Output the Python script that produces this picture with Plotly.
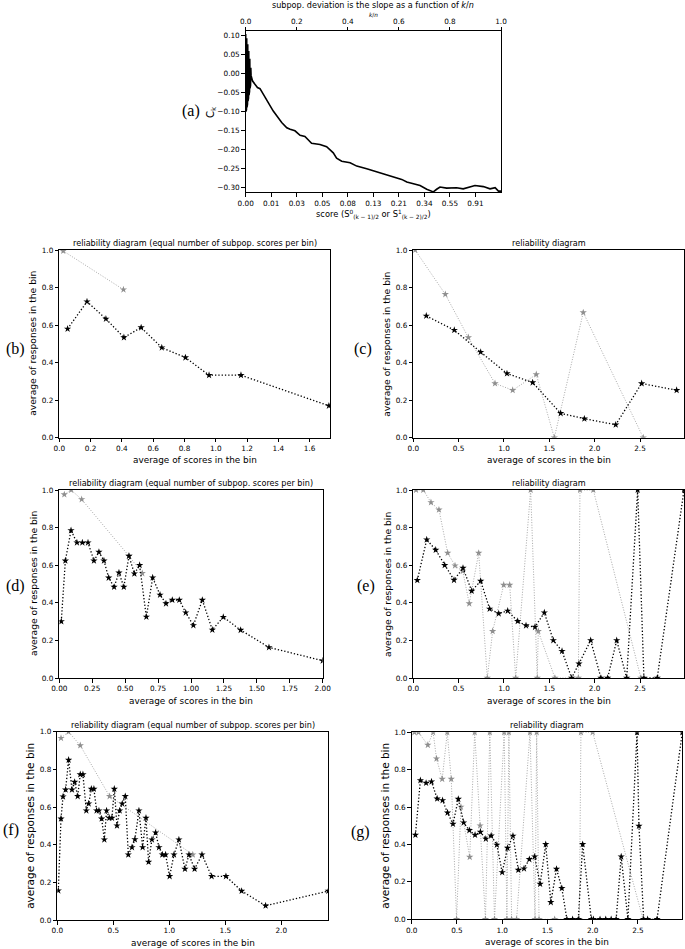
import plotly.graph_objects as go

# (a) cumulative subpopulation deviation against k/n
a_kn = [0.0, 0.001, 0.002, 0.003, 0.004, 0.005, 0.006, 0.007, 0.008, 0.009,
        0.010, 0.011, 0.012, 0.013, 0.014, 0.015, 0.016, 0.017, 0.018, 0.019,
        0.020, 0.021, 0.027, 0.046, 0.056, 0.082, 0.108,
        0.141, 0.161, 0.174, 0.193, 0.213, 0.232, 0.258, 0.291, 0.317, 0.343,
        0.356, 0.376, 0.409, 0.435, 0.474, 0.500, 0.526, 0.552, 0.578, 0.611,
        0.631, 0.657, 0.683, 0.709, 0.735, 0.748, 0.761, 0.787, 0.826, 0.852,
        0.879, 0.898, 0.931, 0.957, 0.977, 0.990, 1.0]
a_dev = [0.105, -0.099, 0.100, -0.094, 0.094, -0.088, 0.086, -0.080, 0.078, -0.072,
         0.070, -0.064, 0.060, -0.056, 0.050, -0.046, 0.040, -0.038, 0.028, -0.030,
         0.016, -0.004, -0.019, -0.036, -0.039, -0.067, -0.098,
         -0.128, -0.142, -0.146, -0.150, -0.162, -0.165, -0.183, -0.186, -0.192, -0.208,
         -0.222, -0.230, -0.234, -0.243, -0.250, -0.255, -0.262, -0.267, -0.271, -0.278,
         -0.285, -0.289, -0.294, -0.304, -0.311, -0.304, -0.298, -0.301, -0.300, -0.303,
         -0.298, -0.294, -0.297, -0.303, -0.300, -0.309, -0.309]
a_score_pos = [0.0, 0.1, 0.2, 0.3, 0.4, 0.5, 0.6, 0.7, 0.8, 0.9]
a_score_txt = ["0.00", "0.01", "0.03", "0.05", "0.08", "0.13", "0.21", "0.34", "0.55", "0.91"]

# reliability diagrams: black = full population, gray = subpopulation
b_x = [0.053, 0.177, 0.298, 0.413, 0.523, 0.655, 0.806, 0.957, 1.161, 1.723]
b_y = [0.580, 0.725, 0.633, 0.534, 0.587, 0.480, 0.427, 0.333, 0.333, 0.170]
b_gx = [0.025, 0.41]
b_gy = [0.995, 0.789]

c_x = [0.143, 0.452, 0.743, 1.033, 1.316, 1.625, 1.886, 2.232, 2.518, 2.904]
c_y = [0.649, 0.573, 0.456, 0.342, 0.294, 0.130, 0.101, 0.069, 0.289, 0.253]
c_gx = [0.02, 0.353, 0.607, 0.901, 1.096, 1.356, 1.555, 1.874, 2.536]
c_gy = [1.0, 0.764, 0.534, 0.289, 0.253, 0.337, 0.0, 0.667, 0.0]

d_x = [0.015, 0.046, 0.089, 0.134, 0.175, 0.218, 0.263, 0.301, 0.339, 0.375,
       0.416, 0.453, 0.490, 0.529, 0.570, 0.610, 0.661, 0.709, 0.765, 0.810,
       0.858, 0.911, 0.960, 1.018, 1.086, 1.162, 1.245, 1.377, 1.592, 2.0]
d_y = [0.301, 0.624, 0.785, 0.720, 0.720, 0.720, 0.624, 0.670, 0.624, 0.533,
       0.484, 0.560, 0.484, 0.649, 0.555, 0.600, 0.325, 0.534, 0.442, 0.396,
       0.415, 0.415, 0.348, 0.280, 0.415, 0.256, 0.324, 0.255, 0.163, 0.092]
d_gx = [0.038, 0.09, 0.170, 0.529, 0.630]
d_gy = [0.976, 1.0, 0.950, 0.649, 0.557]

e_x = [0.044, 0.148, 0.247, 0.346, 0.449, 0.548, 0.644, 0.743, 0.842, 0.942,
       1.041, 1.151, 1.243, 1.342, 1.445, 1.544, 1.640, 1.746, 1.827, 1.956,
       2.069, 2.143, 2.243, 2.353, 2.474, 2.543, 2.690, 2.985]
e_y = [0.520, 0.736, 0.681, 0.600, 0.521, 0.585, 0.463, 0.516, 0.368, 0.343,
       0.357, 0.302, 0.279, 0.271, 0.348, 0.200, 0.143, 0.0, 0.076, 0.200,
       0.0, 0.0, 0.200, 0.0, 1.0, 0.0, 0.0, 1.0]
e_gx = [0.03, 0.11, 0.195, 0.283, 0.379, 0.460, 0.545, 0.617, 0.721, 0.816,
        0.875, 0.997, 1.063, 1.129, 1.294, 1.367, 1.378, 1.562, 1.82, 1.838,
        1.985, 2.51]
e_gy = [1.0, 1.0, 0.934, 0.895, 0.665, 0.598, 0.569, 0.396, 0.665, 0.0,
        0.249, 0.495, 0.495, 0.0, 1.0, 0.0, 0.249, 0.0, 0.0, 1.0,
        1.0, 0.0]

f_x = [0.009, 0.033, 0.051, 0.074, 0.101, 0.131, 0.155, 0.182, 0.205, 0.229,
       0.259, 0.280, 0.304, 0.327, 0.351, 0.372, 0.396, 0.420, 0.440, 0.464,
       0.488, 0.509, 0.533, 0.557, 0.580, 0.607, 0.634, 0.667, 0.693, 0.729,
       0.762, 0.792, 0.815, 0.845, 0.878, 0.908, 0.938, 0.967, 1.003, 1.042,
       1.086, 1.140, 1.176, 1.226, 1.292, 1.378, 1.506, 1.646, 1.860, 2.42]
f_y = [0.156, 0.538, 0.655, 0.692, 0.850, 0.692, 0.733, 0.657, 0.773, 0.773,
       0.581, 0.618, 0.696, 0.696, 0.581, 0.581, 0.538, 0.427, 0.581, 0.542,
       0.542, 0.696, 0.501, 0.581, 0.618, 0.657, 0.347, 0.386, 0.428, 0.581,
       0.386, 0.542, 0.308, 0.427, 0.464, 0.386, 0.347, 0.347, 0.232, 0.347,
       0.427, 0.271, 0.347, 0.271, 0.347, 0.232, 0.232, 0.154, 0.076, 0.154]
f_gx = [0.033, 0.10, 0.205, 0.467, 1.21]
f_gy = [0.966, 1.0, 0.927, 0.657, 0.347]

g_x = [0.041, 0.096, 0.159, 0.219, 0.281, 0.341, 0.396, 0.456, 0.515, 0.574,
       0.637, 0.700, 0.759, 0.819, 0.878, 0.941, 1.0, 1.059, 1.119, 1.178,
       1.241, 1.300, 1.359, 1.419, 1.481, 1.537, 1.600, 1.659, 1.715, 1.778,
       1.841, 1.889, 1.985, 2.007, 2.081, 2.144, 2.204, 2.259, 2.315, 2.389,
       2.49, 2.511, 2.563, 2.607, 2.711, 2.99]
g_y = [0.451, 0.743, 0.729, 0.736, 0.645, 0.636, 0.570, 0.510, 0.643, 0.517,
       0.476, 0.451, 0.467, 0.430, 0.447, 0.398, 0.251, 0.381, 0.446, 0.264,
       0.271, 0.321, 0.335, 0.189, 0.401, 0.091, 0.269, 0.166, 0.0, 0.0,
       0.0, 0.401, 0.0, 0.0, 0.0, 0.0, 0.0, 0.0, 0.335, 0.0,
       1.0, 0.499, 0.0, 0.0, 0.0, 1.0]
g_gx = [0.03, 0.075, 0.178, 0.237, 0.274, 0.337, 0.393, 0.437, 0.496, 0.544,
        0.641, 0.696, 0.756, 0.815, 0.863, 0.915, 1.022, 1.052, 1.074, 1.104,
        1.159, 1.307, 1.363, 1.381, 1.407, 1.58, 1.852, 1.87, 2.0, 2.556]
g_gy = [1.0, 1.0, 0.932, 1.0, 0.859, 0.750, 1.0, 0.750, 0.0, 0.601,
        0.333, 1.0, 0.501, 0.0, 1.0, 0.0, 1.0, 0.0, 1.0, 0.0,
        0.0, 1.0, 0.0, 1.0, 0.0, 0.0, 0.0, 1.0, 1.0, 0.0]

W, H = 685, 949
FONT = "DejaVu Sans"
SERIF = "Liberation Serif"
TITLE_EQ = "reliability diagram (equal number of subpop. scores per bin)"
TITLE_PL = "reliability diagram"


def dom_x(left, right):
    return [left / W, right / W]


def dom_y(top, bottom):
    return [1 - bottom / H, 1 - top / H]


axis_common = dict(showline=True, linecolor="black", linewidth=1, mirror=True,
                   ticks="outside", ticklen=3.5, tickwidth=0.8, tickcolor="black",
                   showgrid=False, zeroline=False, automargin=False,
                   tickfont=dict(family=FONT, size=7.3, color="black"))

fig = go.Figure()
annotations = []


def note(text, px, py, size, family=FONT, angle=0):
    annotations.append(dict(text=text, x=px / W, y=1 - py / H, xref="paper", yref="paper",
                            xanchor="center", yanchor="middle", showarrow=False,
                            textangle=angle, font=dict(family=family, size=size, color="black")))


# ---- panel (a) ----
fig.add_trace(go.Scatter(x=a_kn, y=a_dev, mode="lines", line=dict(color="black", width=1.6),
                         xaxis="x", yaxis="y", showlegend=False, hoverinfo="skip"))
fig.add_trace(go.Scatter(x=[0.5], y=[0], mode="markers", marker=dict(opacity=0),
                         xaxis="x8", yaxis="y", showlegend=False, hoverinfo="skip"))
fig.update_layout(
    xaxis=dict(axis_common, domain=dom_x(245.7, 501), anchor="y", range=[0, 1],
               tickmode="array", tickvals=a_score_pos, ticktext=a_score_txt),
    xaxis8=dict(axis_common, overlaying="x", side="top", anchor="y", range=[0, 1],
                dtick=0.2, tickformat=".1f"),
    yaxis=dict(axis_common, domain=dom_y(31, 192.3), anchor="x", range=[-0.312, 0.113],
               dtick=0.05, tickformat=".2f"),
)
note("subpop. deviation is the slope as a function of <i>k</i>/<i>n</i>", 373, 5, 8.1)
note("<i>k</i>/<i>n</i>", 373, 14.5, 5.8)
note("score (S<sup>0</sup><sub>(k − 1)/2</sub> or S<sup>1</sup><sub>(k − 2)/2</sub>)", 373, 214, 8.3)
note("C<sub>k</sub>", 211, 112, 10, angle=-90)
note("(a)", 191, 111, 16, family=SERIF)

# ---- panels (b)-(g) ----
panels = [
    # letter, title, black, gray, x max, dtick, fmt, box (l, r, t, b), ylabel x, letter pos, ylabel size
    ("(b)", TITLE_EQ, b_x, b_y, b_gx, b_gy, 1.73, 0.2, ".1f", (59.3, 330, 250, 437.7), 33, (15, 349), 9.2),
    ("(c)", TITLE_PL, c_x, c_y, c_gx, c_gy, 2.985, 0.5, ".1f", (413.3, 684, 250, 437.7), 387, (363, 349), 9.2),
    ("(d)", TITLE_EQ, d_x, d_y, d_gx, d_gy, 2.0, 0.25, ".2f", (59.3, 322.7, 490, 678), 33, (15, 586), 9.2),
    ("(e)", TITLE_PL, e_x, e_y, e_gx, e_gy, 2.985, 0.5, ".1f", (413.3, 684, 490, 678), 387, (366, 586), 9.2),
    ("(f)", TITLE_EQ, f_x, f_y, f_gx, f_gy, 2.42, 0.5, ".1f", (57.3, 328.3, 731.7, 920), 30, (11, 830), 10.5),
    ("(g)", TITLE_PL, g_x, g_y, g_gx, g_gy, 2.99, 0.5, ".1f", (411.7, 682.3, 732.3, 919.3), 385, (361, 832), 10.5),
]

for i, (letter, title, bx, by, gx, gy, xmax, dt, fmt, box, ylab_x, lpos, ysize) in enumerate(panels, start=2):
    left, right, top, bottom = box
    xa, ya = f"x{i}", f"y{i}"
    fig.add_trace(go.Scatter(x=gx, y=gy, mode="lines+markers", xaxis=xa, yaxis=ya,
                             line=dict(color="#a8a8a8", width=1, dash="1px,1.6px"),
                             marker=dict(symbol="star", size=5.5, color="#8f8f8f"),
                             showlegend=False, hoverinfo="skip"))
    fig.add_trace(go.Scatter(x=bx, y=by, mode="lines+markers", xaxis=xa, yaxis=ya,
                             line=dict(color="black", width=1.3, dash="1.3px,2px"),
                             marker=dict(symbol="star", size=5.5, color="black"),
                             showlegend=False, hoverinfo="skip"))
    fig.update_layout({
        f"xaxis{i}": dict(axis_common, domain=dom_x(left, right), anchor=ya,
                          range=[0, xmax], dtick=dt, tick0=0, tickformat=fmt),
        f"yaxis{i}": dict(axis_common, domain=dom_y(top, bottom), anchor=xa,
                          range=[0, 1], dtick=0.2, tickformat=".1f"),
    })
    cx = (left + right) / 2
    note(title, cx, top - 7, 8.1)
    note("average of scores in the bin", cx, bottom + 22.5, 8.9)
    note("average of responses in the bin", ylab_x, (top + bottom) / 2, ysize, angle=-90)
    note(letter, lpos[0], lpos[1], 16, family=SERIF)

fig.update_layout(width=W, height=H, margin=dict(l=0, r=0, t=0, b=0),
                  paper_bgcolor="white", plot_bgcolor="white",
                  showlegend=False, annotations=annotations)

fig.write_html("out.html", config={"displayModeBar": False},
               post_script="document.body.style.margin='0';document.body.style.overflow='hidden';")
